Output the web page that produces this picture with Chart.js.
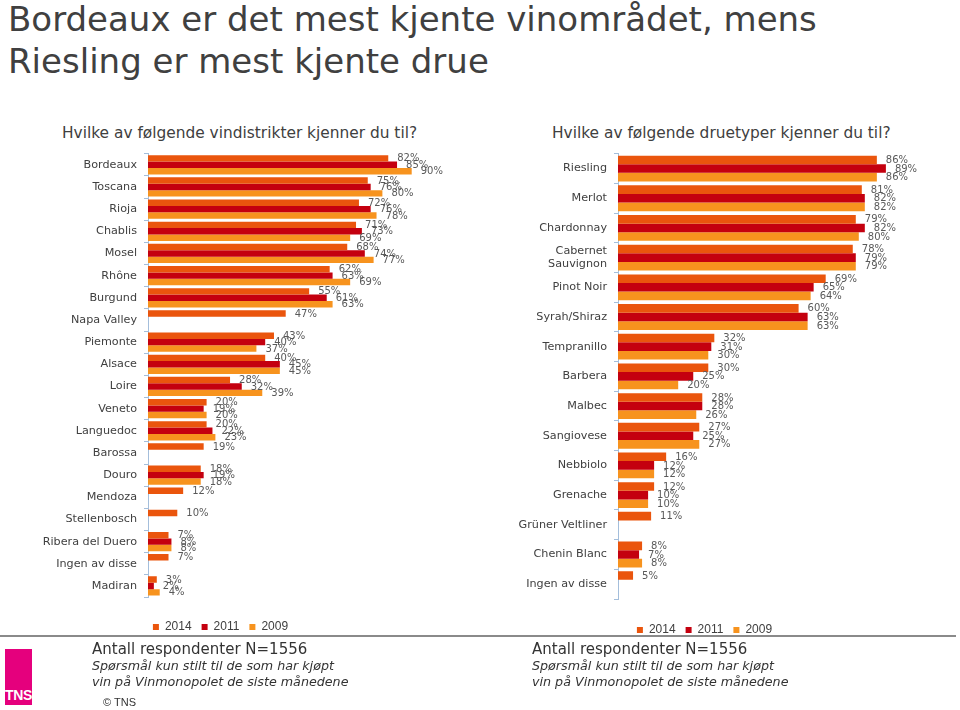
<!DOCTYPE html>
<html>
<head>
<meta charset="utf-8">
<script src="https://cdn.jsdelivr.net/npm/chart.js@4.4.1/dist/chart.umd.min.js"></script>
<style>
  body { margin: 0; width: 960px; height: 710px; background: #fff; position: relative; overflow: hidden; font-family: "DejaVu Sans", Verdana, sans-serif; color: #404040; }
  .abs { position: absolute; white-space: nowrap; }
  #title { left: 8px; top: -2px; font-size: 34px; line-height: 42px; color: #404040; }
  .sub { font-size: 15.4px; top: 124px; color: #404040; }
  #leftWrap { position: absolute; left: 0; top: 140px; width: 490px; height: 503px; }
  #rightWrap { position: absolute; left: 490px; top: 140px; width: 470px; height: 506px; }
  #rule { position: absolute; left: 0; top: 635px; width: 956px; height: 2px; background: #8a8a8a; }
  #logo { position: absolute; left: 5px; top: 649px; width: 27px; height: 56px; background: #e5007d; overflow: hidden; }
  #logo span { position: absolute; left: 0; width: 27px; bottom: 2px; text-align: center; color: #fff; font: bold 14px "Liberation Sans Narrow", "Liberation Sans", sans-serif; letter-spacing: -0.3px; }
  .n { font-size: 15px; color: #333; }
  .q { font-size: 12.7px; font-style: italic; color: #333; }
  #copy { left: 103px; top: 696px; font: 11px "Liberation Sans", Arial, sans-serif; color: #333; }
</style>
</head>
<body>
<div id="title" class="abs">Bordeaux er det mest kjente vinområdet, mens<br>Riesling er mest kjente drue</div>
<div class="abs sub" style="left:62px">Hvilke av følgende vindistrikter kjenner du til?</div>
<div class="abs sub" style="left:552px">Hvilke av følgende druetyper kjenner du til?</div>

<div id="leftWrap"><canvas id="leftChart"></canvas></div>
<div id="rightWrap"><canvas id="rightChart"></canvas></div>

<div id="rule"></div>
<div id="logo"><span>TNS</span></div>
<div class="abs n" style="left:92px;top:640px">Antall respondenter N=1556</div>
<div class="abs q" style="left:92px;top:658px">Spørsmål kun stilt til de som har kjøpt</div>
<div class="abs q" style="left:92px;top:674px">vin på Vinmonopolet de siste månedene</div>
<div class="abs n" style="left:532px;top:640px">Antall respondenter N=1556</div>
<div class="abs q" style="left:532px;top:658px">Spørsmål kun stilt til de som har kjøpt</div>
<div class="abs q" style="left:532px;top:674px">vin på Vinmonopolet de siste månedene</div>
<div id="copy" class="abs">© TNS</div>

<script>
// years shown in legends
var years = ['2014', '2011', '2009'];
var yearColors = ['#ea550d', '#c4000f', '#f7931e'];

// wine districts
var districts = ['Bordeaux', 'Toscana', 'Rioja', 'Chablis', 'Mosel', 'Rhône', 'Burgund', 'Napa Valley',
  'Piemonte', 'Alsace', 'Loire', 'Veneto', 'Languedoc', 'Barossa', 'Douro', 'Mendoza',
  'Stellenbosch', 'Ribera del Duero', 'Ingen av disse', 'Madiran'];
var districts2014 = [82, 75, 72, 71, 68, 62, 55, 47, 43, 40, 28, 20, 20, 19, 18, 12, 10, 7, 7, 3];
var districts2011 = [85, 76, 76, 73, 74, 63, 61, null, 40, 45, 32, 19, 22, null, 19, null, null, 8, null, 2];
var districts2009 = [90, 80, 78, 69, 77, 69, 63, null, 37, 45, 39, 20, 23, null, 18, null, null, 8, null, 4];

// grape types
var grapes = ['Riesling', 'Merlot', 'Chardonnay', ['Cabernet', 'Sauvignon'], 'Pinot Noir', 'Syrah/Shiraz',
  'Tempranillo', 'Barbera', 'Malbec', 'Sangiovese', 'Nebbiolo', 'Grenache', 'Grüner Veltliner',
  'Chenin Blanc', 'Ingen av disse'];
var grapes2014 = [86, 81, 79, 78, 69, 60, 32, 30, 28, 27, 16, 12, 11, 8, 5];
var grapes2011 = [89, 82, 82, 79, 65, 63, 31, 25, 28, 25, 12, 10, null, 7, null];
var grapes2009 = [86, 82, 80, 79, 64, 63, 30, 20, 26, 27, 12, 10, null, 8, null];

// percent labels next to each bar
var valueLabels = {
  id: 'valueLabels',
  afterDatasetsDraw(chart) {
    var ctx = chart.ctx;
    ctx.save();
    ctx.font = '10px "DejaVu Sans", Verdana, sans-serif';
    ctx.fillStyle = '#595959';
    ctx.textBaseline = 'middle';
    ctx.textAlign = 'left';
    chart.data.datasets.forEach(function(ds, i) {
      chart.getDatasetMeta(i).data.forEach(function(bar, j) {
        var v = ds.data[j];
        if (v == null) return;
        ctx.fillText(v + '%', bar.x + 9, bar.y + 0.5);
      });
    });
    ctx.restore();
  }
};

function makeChart(id, labels, s2014, s2011, s2009, opts) {
  var series = [s2014, s2011, s2009];
  return new Chart(document.getElementById(id), {
    type: 'bar',
    data: {
      labels: labels,
      datasets: series.map(function(d, i) {
        return {
          label: years[i],
          data: d,
          backgroundColor: yearColors[i],
          borderWidth: 0,
          categoryPercentage: 0.87,
          barPercentage: 1.0
        };
      })
    },
    plugins: [valueLabels],
    options: {
      indexAxis: 'y',
      responsive: true,
      maintainAspectRatio: false,
      animation: false,
      layout: { padding: { top: opts.top, right: opts.right, left: 0, bottom: 0 } },
      plugins: {
        legend: {
          position: 'bottom',
          labels: {
            boxWidth: 6,
            boxHeight: 6,
            padding: 10,
            color: '#404040',
            font: { family: '"Liberation Sans Narrow", "Liberation Sans", sans-serif', size: 12 }
          }
        },
        tooltip: { enabled: false }
      },
      scales: {
        x: {
          min: 0,
          max: 100,
          ticks: { display: false },
          grid: { display: false },
          border: { display: false },
          afterFit: function(s) { s.height = opts.gap; }
        },
        y: {
          grid: { drawOnChartArea: false, drawTicks: true, tickLength: 4, color: '#a4bedb' },
          border: { color: '#a4bedb', width: 1 },
          ticks: {
            autoSkip: false,
            padding: 7,
            color: '#404040',
            font: { family: '"DejaVu Sans", Verdana, sans-serif', size: 11.2 }
          },
          afterFit: function(s) { s.width = opts.axisWidth; }
        }
      }
    }
  });
}

makeChart('leftChart', districts, districts2014, districts2011, districts2009,
  { top: 4, right: 49, gap: 14, axisWidth: 148 });
makeChart('rightChart', grapes, grapes2014, grapes2011, grapes2009,
  { top: 5, right: 41, gap: 15, axisWidth: 128 });
</script>
</body>
</html>
